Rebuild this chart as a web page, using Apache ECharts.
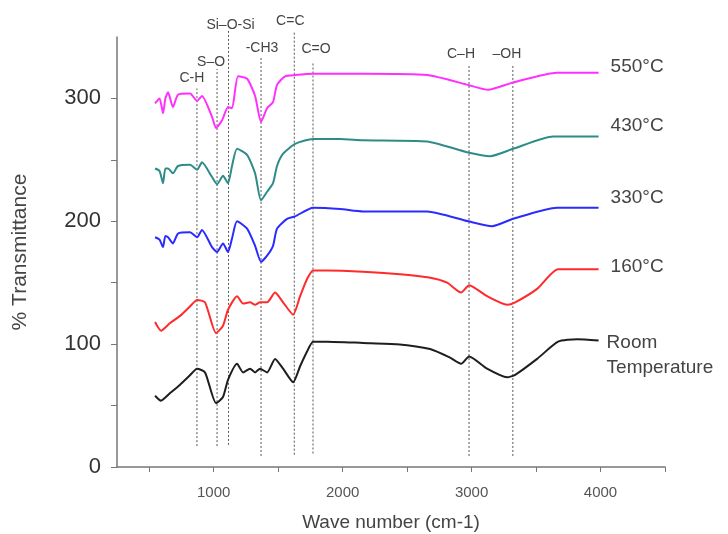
<!DOCTYPE html>
<html>
<head>
<meta charset="utf-8">
<script src="https://cdn.jsdelivr.net/npm/echarts@6/dist/echarts.min.js"></script>
<style>
  html, body { margin: 0; padding: 0; background: #fff; }
  #main { width: 728px; height: 534px; }
</style>
</head>
<body>
<div id="main"></div>
<script>
// spectra, [wave number, % transmittance] (curves already offset in the figure)
var roomTemp = [[545,58],[591,54],[660,60],[739,67],[810,74],[871,80],[933,77],[1018,52],[1072,57],[1111,71],[1181,84],[1228,77],[1282,80],[1321,77],[1359,80],[1414,77],[1476,88],[1538,80],[1616,69],[1670,82],[1724,94],[1771,102],[1879,102],[2158,101],[2422,100],[2678,96],[2833,89],[2919,84],[2981,90],[3120,80],[3276,73],[3338,75],[3508,88],[3671,102],[3819,104],[3985,103]];
var t160 = [[545,118],[591,111],[660,117],[739,123],[810,130],[871,136],[933,134],[1018,109],[1072,115],[1111,128],[1181,139],[1228,133],[1282,134],[1321,132],[1359,134],[1414,134],[1476,142],[1538,134],[1616,124],[1670,139],[1724,153],[1771,160],[1879,160],[2158,159],[2422,157],[2678,154],[2810,150],[2919,142],[2981,148],[3120,139],[3276,132],[3338,134],[3508,145],[3671,161],[3985,161]];
var t330 = [[545,187],[580,185],[607,179],[625,188],[646,187],[684,182],[723,190],[816,191],[871,187],[909,193],[987,179],[1026,175],[1072,182],[1111,175],[1142,186],[1181,200],[1259,194],[1321,180],[1367,167],[1414,172],[1460,180],[1491,194],[1569,202],[1631,204],[1771,211],[1980,210],[2158,208],[2655,208],[2973,200],[3159,196],[3322,202],[3663,211],[3985,211]];
var t430 = [[545,243],[580,241],[607,231],[625,243],[646,243],[684,239],[723,245],[816,246],[871,242],[909,248],[987,236],[1026,230],[1072,237],[1111,231],[1142,245],[1181,259],[1259,254],[1321,239],[1367,217],[1414,224],[1460,231],[1491,245],[1538,255],[1631,263],[1771,267],[1980,267],[2158,266],[2655,265],[2973,256],[3144,253],[3322,259],[3632,269],[3985,269]];
var t550 = [[545,296],[580,300],[607,288],[625,300],[646,305],[684,293],[723,303],[816,304],[871,298],[909,302],[987,285],[1018,276],[1064,282],[1111,293],[1142,292],[1189,318],[1259,316],[1321,302],[1367,281],[1414,292],[1460,297],[1491,311],[1553,318],[1631,319],[1771,320],[1980,320],[2158,320],[2655,319],[2973,311],[3128,307],[3322,313],[3663,321],[3985,321]];

var seriesNames = ['Room Temperature', '160°C', '330°C', '430°C', '550°C'];

// band assignments: wave number, label, dotted line from / to (% scale)
var bandPos   = [870, 1026, 1115, 1367, 1625, 1770, 2980, 3320];
var bandNames = ['C-H', 'S–O', 'Si–O-Si', '-CH3', 'C=C', 'C=O', 'C–H', '–OH'];
var bandLow   = [17, 17, 18, 9, 10, 11, 9, 9];
var bandHigh  = [308, 324, 355, 333, 355, 330, 328, 328];

var xTicks = [500, 1000, 1500, 2000, 2500, 3000, 3500, 4000, 4500];
var xLabels = [1000, 2000, 3000, 4000];
var yTicks = [0, 50, 100, 150, 200, 250, 300];
var yLabels = [0, 100, 200, 300];

var font = 'Liberation Sans, Arial, sans-serif';
var myChart = echarts.init(document.getElementById('main'));

var labelDx = [-5, -6, 2, 1, -4, 3, -8, -6];
var labelDy = [0, 3, 4, 0, 0, -2, 0, 0];
var bandData = bandPos.map(function (x, i) {
    return [x, bandLow[i], bandHigh[i], i];
});

function spec(name, data, color, dx, dy) {
    var room = name === 'Room Temperature';
    return {
        name: name,
        type: 'line',
        data: data,
        symbol: 'none',
        smooth: 0.2,
        lineStyle: { color: color, width: 2 },
        itemStyle: { color: color },
        endLabel: {
            show: true,
            formatter: room ? 'Room\nTemperature' : name,
            fontSize: 19,
            color: '#444',
            fontFamily: font,
            lineHeight: 25,
            offset: [dx, dy],
            verticalAlign: room ? 'top' : 'middle'
        }
    };
}

option = {
    animation: false,
    textStyle: { fontFamily: font },
    grid: { left: 117, right: 63, top: 37, bottom: 67, containLabel: false, outerBoundsMode: 'none' },
    xAxis: {
        type: 'value',
        min: 250,
        max: 4500,
        name: 'Wave number (cm-1)',
        nameLocation: 'middle',
        nameGap: 46,
        nameTextStyle: { fontSize: 19, color: '#444', fontFamily: font },
        axisLine: { lineStyle: { color: '#777', width: 1.5 } },
        axisTick: { customValues: xTicks, length: 5, lineStyle: { color: '#777' } },
        axisLabel: { customValues: xLabels, fontSize: 15, color: '#555', margin: 18,
                     formatter: function (v) { return String(v); } },
        splitLine: { show: false }
    },
    yAxis: {
        type: 'value',
        min: 0,
        max: 350,
        name: '% Transmittance',
        nameLocation: 'middle',
        nameGap: 86,
        nameTextStyle: { fontSize: 21, color: '#444', fontFamily: font },
        axisLine: { show: true, lineStyle: { color: '#777', width: 1.5 } },
        axisTick: { customValues: yTicks, length: 6, lineStyle: { color: '#777' } },
        axisLabel: { customValues: yLabels, fontSize: 22, color: '#333', margin: 16 },
        splitLine: { show: false }
    },
    series: [
        spec(seriesNames[0], roomTemp, '#1e1e1e', 0, -10),
        spec(seriesNames[1], t160, '#ff2a2a', 4, -2),
        spec(seriesNames[2], t330, '#2b2bff', 4, -10),
        spec(seriesNames[3], t430, '#2e8c88', 4, -11),
        spec(seriesNames[4], t550, '#ff30ff', 4, -6),
        {
            name: 'bands',
            type: 'custom',
            silent: true,
            clip: false,
            data: bandData,
            renderItem: function (params, api) {
                var i = api.value(3);
                var p0 = api.coord([api.value(0), api.value(1)]);
                var p1 = api.coord([api.value(0), api.value(2)]);
                return {
                    type: 'group',
                    children: [{
                        type: 'line',
                        shape: { x1: p0[0], y1: p0[1], x2: p1[0], y2: p1[1] },
                        style: { stroke: '#555', lineWidth: 1, lineDash: [2, 2] }
                    }, {
                        type: 'text',
                        x: p1[0] + labelDx[i],
                        y: p1[1] - 3 + labelDy[i],
                        style: {
                            text: bandNames[i],
                            textAlign: 'center',
                            textVerticalAlign: 'bottom',
                            fontSize: 14,
                            fontFamily: font,
                            fill: '#444'
                        }
                    }]
                };
            }
        }
    ]
};

myChart.setOption(option);
</script>
</body>
</html>
